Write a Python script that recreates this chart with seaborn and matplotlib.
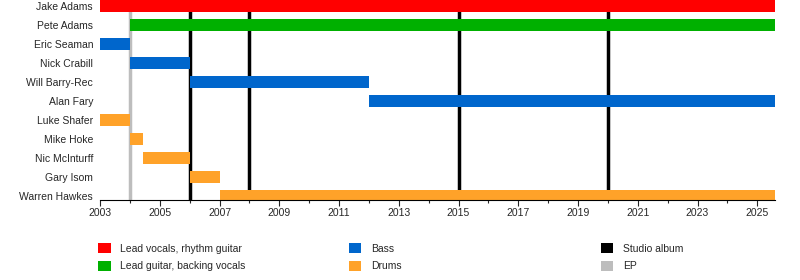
import matplotlib
matplotlib.use("Agg")
import matplotlib.pyplot as plt
import matplotlib.patches as mpatches
import seaborn as sns
import pandas as pd

sns.set_style("white")
plt.rcParams["font.family"] = ["Liberation Sans", "DejaVu Sans"]

members = ["Jake Adams", "Pete Adams", "Eric Seaman", "Nick Crabill", "Will Barry-Rec",
           "Alan Fary", "Luke Shafer", "Mike Hoke", "Nic McInturff", "Gary Isom", "Warren Hawkes"]
starts = [2003, 2004, 2003, 2004, 2006, 2012, 2003, 2004, 2004.45, 2006, 2007]
ends = [2025.6, 2025.6, 2004, 2006, 2012, 2025.6, 2004, 2004.45, 2006, 2007, 2025.6]
roles = ["Lead vocals, rhythm guitar", "Lead guitar, backing vocals", "Bass", "Bass", "Bass",
         "Bass", "Drums", "Drums", "Drums", "Drums", "Drums"]

role_names = ["Lead vocals, rhythm guitar", "Lead guitar, backing vocals", "Bass", "Drums"]
role_colors = ["#ff0000", "#00b000", "#0066cc", "#ffa229"]

studio_albums = [2006, 2008, 2015, 2020]
eps = [2004]

df = pd.DataFrame({"member": members, "start": starts, "end": ends, "role": roles})
df["dur"] = df["end"] - df["start"]
cmap = dict(zip(role_names, role_colors))

fig = plt.figure(figsize=(8, 2.8), dpi=100)
ax = fig.add_axes([0.125, 0.2857, 0.844, 0.7143])

for x in eps:
    ax.axvline(x, color="#bdbdbd", lw=2.5, zorder=1)
for x in studio_albums:
    ax.axvline(x, color="black", lw=2.5, zorder=1)

ypos = list(range(len(df)))
ax.barh(ypos, df["dur"], left=df["start"], height=0.63,
        color=[cmap[r] for r in df["role"]], edgecolor="none", linewidth=0, zorder=2)

ax.set_ylim(10.21, -0.316)
ax.set_xlim(2003, 2025.6)
ax.set_yticks(ypos)
ax.set_yticklabels(members, fontsize=7.5)
ax.set_xticks(range(2003, 2026, 2))
ax.set_xticks(range(2003, 2026), minor=True)
ax.tick_params(axis="x", which="major", length=4, width=0.8, labelsize=7.5, direction="out", bottom=True, pad=2)
ax.tick_params(axis="x", which="minor", length=2, width=0.8, direction="out", bottom=True)
ax.tick_params(axis="y", length=0, pad=5)
for s in ["top", "right", "left"]:
    ax.spines[s].set_visible(False)
ax.spines["bottom"].set_color("black")
ax.spines["bottom"].set_linewidth(0.8)

columns = [
    [(role_names[0], role_colors[0]), (role_names[1], role_colors[1])],
    [(role_names[2], role_colors[2]), (role_names[3], role_colors[3])],
    [("Studio album", "black"), ("EP", "#bdbdbd")],
]
col_x = [0.1225, 0.436, 0.751]
for items, x in zip(columns, col_x):
    handles = [mpatches.Patch(facecolor=c, edgecolor="none", label=l) for l, c in items]
    leg = fig.legend(handles=handles, loc="upper left", bbox_to_anchor=(x, 0.132),
                     frameon=False, fontsize=7.5, handlelength=1.2, handleheight=1.15,
                     handletextpad=0.95, labelspacing=0.65, borderpad=0, borderaxespad=0)

fig.savefig("out.png", dpi=100)
